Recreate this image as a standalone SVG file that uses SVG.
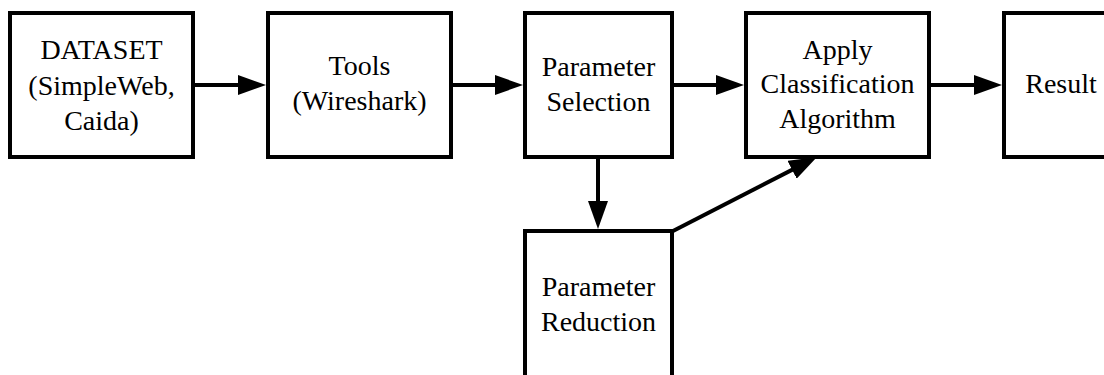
<svg xmlns="http://www.w3.org/2000/svg" width="1104" height="375" viewBox="0 0 1104 375">
<style>
.box{fill:#fff;stroke:#000;stroke-width:4}
.lbl{font-family:"Liberation Serif","Times New Roman",serif;font-size:28px;fill:#000;text-anchor:middle}
.conn{stroke:#000;stroke-width:4;fill:none;marker-end:url(#ah)}
</style>
<defs>
<marker id="ah" markerUnits="userSpaceOnUse" markerWidth="28" markerHeight="20" refX="18" refY="10" orient="auto" viewBox="0 0 28 20">
<path d="M0,0 L28,10 L0,20 z" fill="#000"/>
</marker>
</defs>
<rect width="1104" height="375" fill="#fff"/>
<g id="dataset">
<rect class="box" x="10" y="13" width="183" height="144"/>
<text class="lbl" x="101.5" y="59">DATASET</text>
<text class="lbl" x="101.5" y="95">(SimpleWeb,</text>
<text class="lbl" x="101.5" y="130">Caida)</text>
</g>
<g id="tools">
<rect class="box" x="268" y="13" width="183" height="144"/>
<text class="lbl" x="359.5" y="75">Tools</text>
<text class="lbl" x="359.5" y="110">(Wireshark)</text>
</g>
<g id="selection">
<rect class="box" x="525" y="13" width="147" height="144"/>
<text class="lbl" x="598.5" y="76">Parameter</text>
<text class="lbl" x="598.5" y="111">Selection</text>
</g>
<g id="classification">
<rect class="box" x="746" y="13" width="183" height="144"/>
<text class="lbl" x="837.5" y="59">Apply</text>
<text class="lbl" x="837.5" y="93">Classification</text>
<text class="lbl" x="837.5" y="128">Algorithm</text>
</g>
<g id="result">
<rect class="box" x="1004" y="13" width="120" height="144"/>
<text class="lbl" x="1061" y="93">Result</text>
</g>
<g id="reduction">
<rect class="box" x="525" y="231" width="147" height="170"/>
<text class="lbl" x="598.5" y="296">Parameter</text>
<text class="lbl" x="598.5" y="331">Reduction</text>
</g>
<g id="connectors">
<line class="conn" x1="195" y1="85" x2="256" y2="85"/>
<line class="conn" x1="453" y1="85" x2="513" y2="85"/>
<line class="conn" x1="674" y1="85" x2="734" y2="85"/>
<line class="conn" x1="931" y1="85" x2="992" y2="85"/>
<line class="conn" x1="598" y1="159" x2="598" y2="219"/>
<line class="conn" x1="673" y1="231" x2="808.1" y2="161.6"/>
</g>
</svg>
